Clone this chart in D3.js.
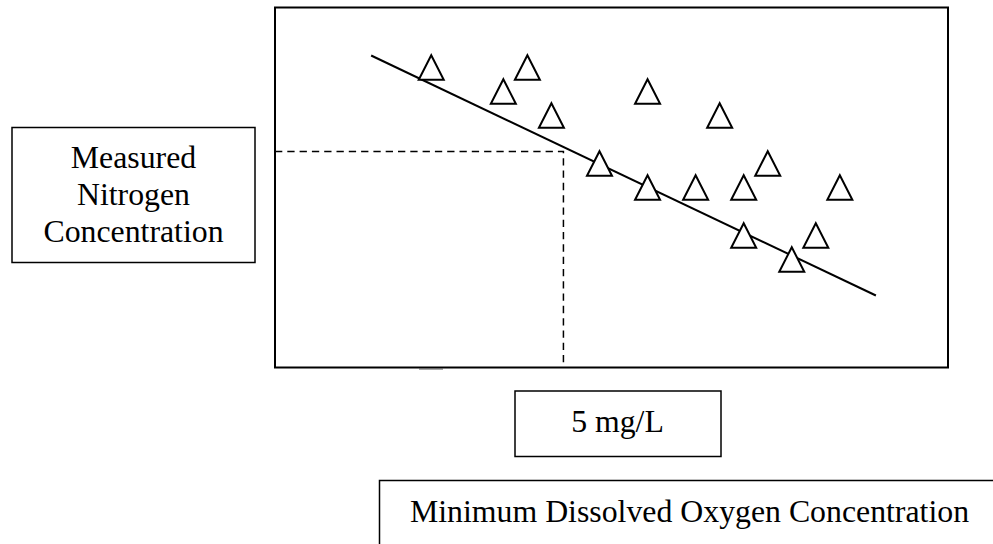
<!DOCTYPE html>
<html>
<head>
<meta charset="utf-8">
<script src="https://cdn.jsdelivr.net/npm/d3@7"></script>
<style>
  html, body { margin: 0; padding: 0; background: #fff; }
  svg { display: block; }
  text { font-family: "Liberation Serif", "Times New Roman", serif; fill: #000; }
</style>
</head>
<body>
<svg id="chart" width="993" height="544"></svg>
<script>
// ---- data (abstract units) ----
const dissolvedOxygen = [3.25, 4.75, 5.25, 5.75, 6.75, 7.75, 9.25, 7.75, 8.75, 9.75, 10.25, 11.75, 9.75, 11.25, 10.75];
const nitrogen        = [12.5, 11.5, 12.5, 10.5, 8.5, 11.5, 10.5, 7.5, 7.5, 7.5, 8.5, 7.5, 5.5, 5.5, 4.5];
const trendX = [2.0, 12.5];
const trendY = [13.0, 3.0];
const thresholdX = 6.0;   // position of the "5 mg/L" guide
const thresholdY = 9.0;
const xDomain = [0, 14];
const yDomain = [0, 15];
const yLabelLines = ["Measured", "Nitrogen", "Concentration"];
const thresholdLabel = "5 mg/L";
const xLabel = "Minimum Dissolved Oxygen Concentration";

const svg = d3.select("#chart");
const plot = { left: 275, right: 948, top: 7.5, bottom: 367.5 };

const x = d3.scaleLinear().domain(xDomain).range([plot.left, plot.right]);
const y = d3.scaleLinear().domain(yDomain).range([plot.bottom, plot.top]);

// dashed guide lines
svg.append("path")
  .attr("d", d3.line()([[x(xDomain[0]), y(thresholdY)], [x(thresholdX), y(thresholdY)], [x(thresholdX), y(yDomain[0])]]))
  .attr("fill", "none").attr("stroke", "#000").attr("stroke-width", 1.5)
  .attr("stroke-dasharray", "7.3,5");

// trend line
svg.append("line")
  .attr("x1", x(trendX[0])).attr("y1", y(trendY[0]))
  .attr("x2", x(trendX[1])).attr("y2", y(trendY[1]))
  .attr("stroke", "#000").attr("stroke-width", 2);

// triangle markers
const pts = dissolvedOxygen.map((d, i) => ({ x: d, y: nitrogen[i] }));
const hw = 12.5, hh = 12.25;
svg.append("g").selectAll("path").data(pts).join("path")
  .attr("d", d => {
    const cx = x(d.x), cy = y(d.y);
    return `M${cx},${cy - hh}L${cx + hw},${cy + hh}L${cx - hw},${cy + hh}Z`;
  })
  .attr("fill", "#fff").attr("stroke", "#000").attr("stroke-width", 2)
  .attr("stroke-linejoin", "miter");

// plot frame
svg.append("rect")
  .attr("x", plot.left).attr("y", plot.top)
  .attr("width", plot.right - plot.left).attr("height", plot.bottom - plot.top)
  .attr("fill", "none").attr("stroke", "#000").attr("stroke-width", 2);

// small mark under axis
svg.append("line").attr("x1", 419).attr("x2", 443).attr("y1", 369).attr("y2", 369)
  .attr("stroke", "#555").attr("stroke-width", 1);

// y label box
svg.append("rect").attr("x", 12).attr("y", 127.5).attr("width", 243).attr("height", 135)
  .attr("fill", "none").attr("stroke", "#000").attr("stroke-width", 1.5);
svg.append("g").selectAll("text").data(yLabelLines).join("text")
  .attr("x", 133.5).attr("y", (d, i) => 167.5 + i * 37)
  .attr("text-anchor", "middle").attr("font-size", 31.8)
  .text(d => d);

// threshold label box
svg.append("rect").attr("x", 515).attr("y", 391).attr("width", 206).attr("height", 65.5)
  .attr("fill", "none").attr("stroke", "#000").attr("stroke-width", 1.5);
svg.append("text").attr("x", 617.5).attr("y", 431.5)
  .attr("text-anchor", "middle").attr("font-size", 31.8).text(thresholdLabel);

// x label box (extends past the window)
svg.append("rect").attr("x", 379.5).attr("y", 480.5).attr("width", 640).attr("height", 120)
  .attr("fill", "none").attr("stroke", "#000").attr("stroke-width", 1.5);
svg.append("text").attr("x", 410).attr("y", 521.5)
  .attr("text-anchor", "start").attr("font-size", 31.8).text(xLabel);
</script>
</body>
</html>
